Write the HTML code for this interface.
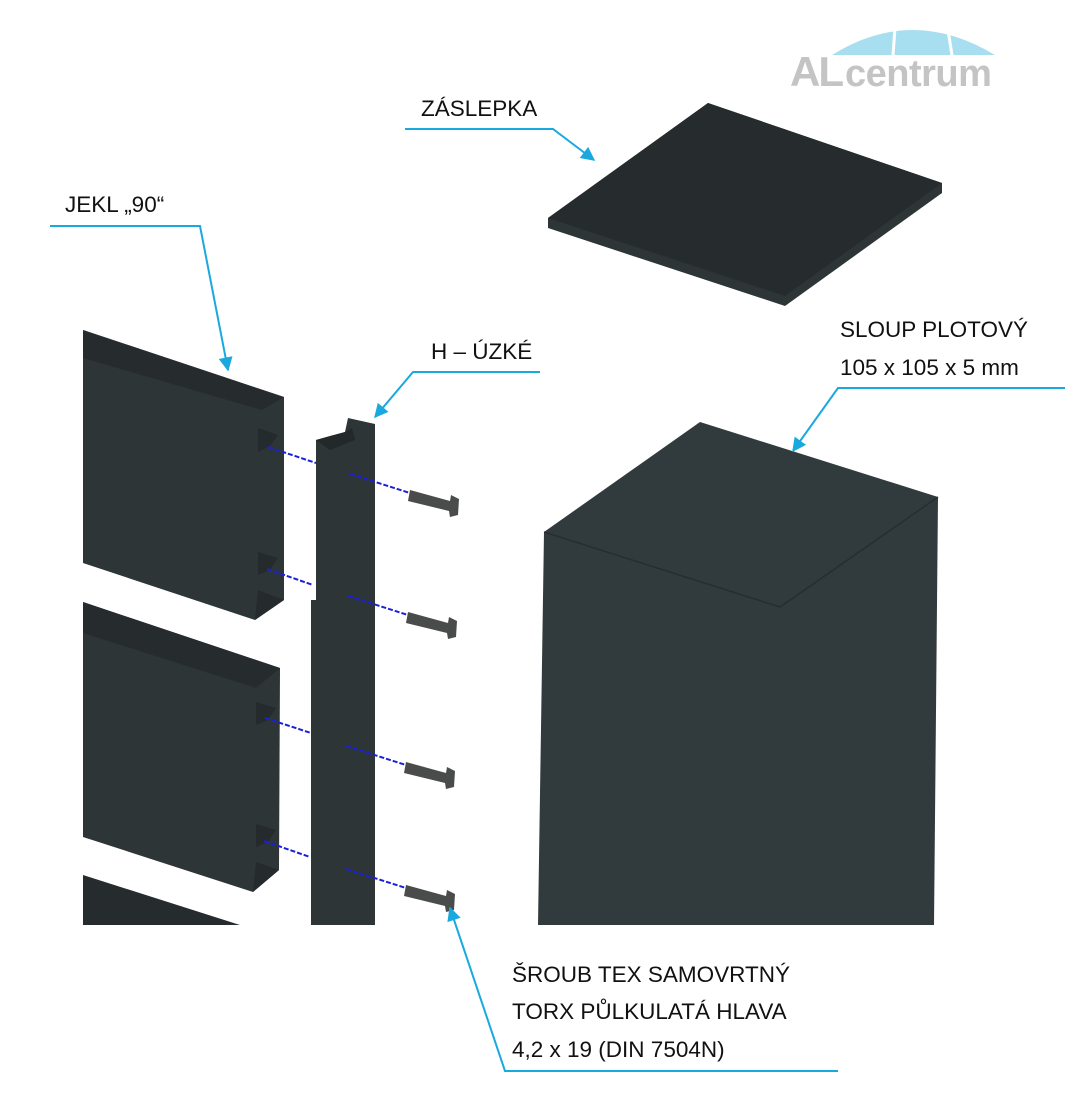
<!DOCTYPE html>
<html><head><meta charset="utf-8"><style>
html,body{margin:0;padding:0;background:#fff;}
svg{display:block;}
text{font-family:"Liberation Sans",sans-serif;font-size:22.5px;fill:#111;}
</style></head><body>
<svg width="1089" height="1093" viewBox="0 0 1089 1093" xmlns="http://www.w3.org/2000/svg">
<defs>
<marker id="ar2" viewBox="0 0 10 10" markerWidth="16" markerHeight="14" refX="9" refY="5" orient="auto" markerUnits="userSpaceOnUse"><path d="M0,0 L10,5 L0,10 Z" fill="#1aa9de"/></marker>
</defs>
<!-- logo -->
<path d="M832,55 Q912,5 995,55 Z" fill="#a8dff0"/>
<line x1="895" y1="28" x2="893" y2="55" stroke="#fff" stroke-width="3"/>
<line x1="948" y1="30" x2="952" y2="55" stroke="#fff" stroke-width="3"/>
<text x="790" y="86" style="font-size:42px;font-weight:bold;fill:#c4c4c4;letter-spacing:-2px">AL</text>
<text x="845" y="86" style="font-size:38px;font-weight:bold;fill:#c4c4c4;letter-spacing:-0.5px">centrum</text>
<!-- cap -->
<polygon points="548,218 708,103 942,183 942,193 785,306 548,228" fill="#2e3537"/>
<polygon points="548,218 708,103 942,183 785,296" fill="#262c2d"/>
<!-- post -->
<polygon points="544,532 700,422 938,497 934,925 538,925" fill="#313a3c"/>
<polyline points="544,532 780,607 938,497" fill="none" stroke="#252e30" stroke-width="1.5"/>
<!-- jekl 1 -->
<polygon points="83,330 284,397 284,600 255,620 83,563" fill="#2e3537"/>
<polygon points="83,330 284,397 262,410 83,358" fill="#262c2d"/>
<polygon points="258,428 278,435 270,446 258,452" fill="#252b2c"/>
<polygon points="258,552 278,558 270,570 258,575" fill="#252b2c"/>
<polygon points="258,590 284,600 255,620" fill="#252b2c"/>
<!-- jekl 2 -->
<polygon points="83,602 280,668 279,870 253,892 83,837" fill="#2e3537"/>
<polygon points="83,602 280,668 256,688 83,633" fill="#262c2d"/>
<polygon points="256,702 276,708 268,720 256,725" fill="#252b2c"/>
<polygon points="256,824 276,830 268,842 256,847" fill="#252b2c"/>
<polygon points="256,862 279,870 253,892" fill="#252b2c"/>
<!-- jekl 3 -->
<polygon points="83,875 240,925 83,925" fill="#262c2d"/>
<!-- H profile -->
<polygon points="316,440 345,432 348,418 375,424 375,925 311,925 311,600 316,600" fill="#2e3537"/>
<polygon points="316,440 330,436 345,432 352,428 355,440 340,446 330,450" fill="#232829"/>
<!-- blue lines -->
<g stroke="#1a20d8" stroke-width="2" stroke-dasharray="5,2">
<line x1="268" y1="447" x2="316" y2="463"/><line x1="350" y1="474" x2="410" y2="493"/>
<line x1="267" y1="569" x2="313" y2="585"/><line x1="348" y1="596" x2="408" y2="615"/>
<line x1="265" y1="718" x2="311" y2="733"/><line x1="346" y1="746" x2="406" y2="765"/>
<line x1="264" y1="841" x2="310" y2="857"/><line x1="346" y1="869" x2="406" y2="888"/>
</g>
<!-- screws -->
<g fill="#4a4c4c">
<polygon points="410,490 450,501 451,495 459,499 458,515 450,517 449,511 408,501"/>
<polygon points="408,612 448,623 449,617 457,621 456,637 448,639 447,633 406,623"/>
<polygon points="406,762 446,773 447,767 455,771 454,787 446,789 445,783 404,773"/>
<polygon points="406,885 446,896 447,890 455,894 454,910 446,912 445,906 404,896"/>
</g>
<!-- callouts -->
<g stroke="#1aa9de" stroke-width="2" fill="none">
<polyline points="405,129 553,129 594,160" marker-end="url(#ar2)"/>
<polyline points="50,226 200,226 228,370" marker-end="url(#ar2)"/>
<polyline points="540,372 413,372 375,417" marker-end="url(#ar2)"/>
<polyline points="1065,388 838,388 793,451" marker-end="url(#ar2)"/>
<polyline points="838,1071 505,1071 450,908" marker-end="url(#ar2)"/>
</g>
<text x="421" y="116">ZÁSLEPKA</text>
<text x="65" y="212">JEKL „90“</text>
<text x="431" y="359">H – ÚZKÉ</text>
<text x="840" y="337">SLOUP PLOTOVÝ</text>
<text x="840" y="375">105 x 105 x 5 mm</text>
<text x="512" y="982">ŠROUB TEX SAMOVRTNÝ</text>
<text x="512" y="1019">TORX PŮLKULATÁ HLAVA</text>
<text x="512" y="1057">4,2 x 19 (DIN 7504N)</text>
</svg>
</body></html>
